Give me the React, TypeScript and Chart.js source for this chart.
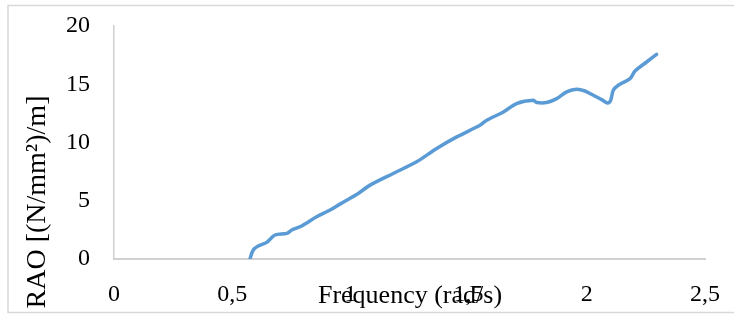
import React, { useEffect, useRef } from "react";
import { Chart, registerables } from "chart.js";

Chart.register(...registerables);

const freq = [0.575, 0.589, 0.61, 0.646, 0.681, 0.731, 0.752, 0.794, 0.857, 0.914, 0.956, 1.033, 1.083, 1.181, 1.28, 1.365, 1.45, 1.548, 1.577, 1.647, 1.703, 1.774, 1.788, 1.83, 1.873, 1.915, 1.957, 1.992, 2.028, 2.063, 2.088, 2.101, 2.112, 2.133, 2.183, 2.204, 2.253, 2.295];
const rao = [0, 0.77, 1.11, 1.43, 2.06, 2.2, 2.49, 2.83, 3.62, 4.2, 4.71, 5.63, 6.34, 7.34, 8.34, 9.49, 10.48, 11.48, 11.91, 12.62, 13.34, 13.62, 13.43, 13.43, 13.77, 14.34, 14.57, 14.42, 14.05, 13.68, 13.39, 13.62, 14.48, 14.91, 15.48, 16.14, 16.91, 17.57];

const xTitle = "Frequency (rad/s)";
const yTitle = "RAO [(N/mm²)/m]";

const FONT = "'Liberation Serif', 'Times New Roman', serif";

const frame = {
  id: "frame",
  beforeDraw(chart: any) {
    const ctx = chart.ctx;
    ctx.save();
    ctx.strokeStyle = "#d9d9d9";
    ctx.lineWidth = 1.5;
    ctx.strokeRect(8, 5.5, 800, 307);
    ctx.restore();
  },
  afterDraw(chart: any) {
    const ctx = chart.ctx;
    ctx.save();
    ctx.fillStyle = "#000";
    ctx.textAlign = "center";
    ctx.textBaseline = "middle";
    ctx.font = `26px ${FONT}`;
    ctx.fillText(xTitle, 410, 296);
    ctx.translate(38, 202);
    ctx.rotate(-Math.PI / 2);
    ctx.font = `28px ${FONT}`;
    ctx.fillText(yTitle, 0, 0);
    ctx.restore();
  },
};

export default function App() {
  const ref = useRef<HTMLCanvasElement>(null);
  useEffect(() => {
    const chart = new Chart(ref.current!, {
      type: "line",
      data: {
        datasets: [
          {
            data: freq.map((x, i) => ({ x, y: rao[i] })),
            borderColor: "#5B9BD5",
            borderWidth: 3.5,
            pointRadius: 0,
            tension: 0.3,
            borderCapStyle: "round",
            borderJoinStyle: "round",
            fill: false,
          },
        ],
      },
      options: {
        animation: false,
        responsive: false,
        layout: { padding: { left: 0, top: 26, right: 29, bottom: 0 } },
        plugins: { legend: { display: false }, tooltip: { enabled: false } },
        scales: {
          x: {
            type: "linear",
            min: 0,
            max: 2.5,
            afterFit: (s: any) => {
              s.height = 59;
              s.paddingLeft = 0;
              s.paddingRight = 0;
              s.paddingTop = 0;
              s.paddingBottom = 0;
            },
            grid: { display: false, drawTicks: false },
            border: { display: true, color: "#d0d0d0", width: 2 },
            ticks: {
              stepSize: 0.5,
              padding: 21,
              color: "#000",
              font: { family: FONT, size: 24 },
              maxRotation: 0,
              callback: (v: any) => String(v).replace(".", ","),
            },
          },
          y: {
            min: 0,
            max: 20,
            afterFit: (s: any) => {
              s.width = 114;
              s.paddingLeft = 0;
              s.paddingRight = 0;
              s.paddingTop = 0;
              s.paddingBottom = 0;
            },
            grid: { display: false, drawTicks: false },
            border: { display: true, color: "#d0d0d0", width: 1.5 },
            ticks: {
              stepSize: 5,
              padding: 24,
              color: "#000",
              font: { family: FONT, size: 24 },
            },
          },
        },
      },
      plugins: [frame],
    });
    return () => chart.destroy();
  }, []);
  return (
    <div style={{ position: "fixed", left: 0, top: 0, width: 734, height: 318, background: "#fff" }}>
      <canvas ref={ref} width={734} height={318} style={{ display: "block" }} />
    </div>
  );
}
